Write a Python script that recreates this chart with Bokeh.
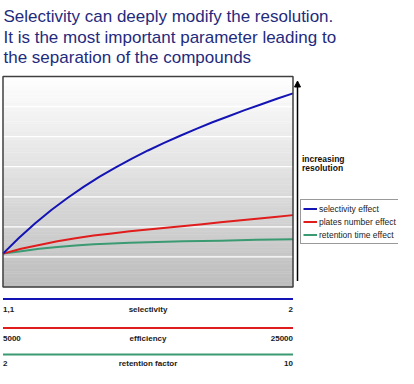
import numpy as np
from bokeh.plotting import figure
from bokeh.models import Range1d, Legend, LegendItem, Arrow, NormalHead
from bokeh.core.properties import value
from bokeh.embed import file_html
from bokeh.resources import INLINE

# ---------------- data ----------------
title_lines = ["Selectivity can deeply modify the resolution.",
               "It is the most important parameter leading to",
               "the separation of the  compounds"]

selectivity = [1.10, 1.15, 1.20, 1.25, 1.30, 1.35, 1.40, 1.45, 1.50, 1.55,
               1.60, 1.65, 1.70, 1.75, 1.80, 1.85, 1.90, 1.95, 2.00]
res_selectivity = [1.11, 1.64, 2.12, 2.56, 2.96, 3.33, 3.67, 3.98, 4.27, 4.54,
                   4.79, 5.03, 5.26, 5.48, 5.68, 5.88, 6.07, 6.26, 6.44]

plates = [5000, 6250, 7500, 8750, 10000, 11250, 12500, 13750, 15000,
          16250, 17500, 18750, 20000, 21250, 22500, 23750, 25000]
res_plates = [1.11, 1.27, 1.40, 1.52, 1.62, 1.71, 1.78, 1.85, 1.91,
              1.97, 2.03, 2.09, 2.15, 2.21, 2.27, 2.33, 2.39]

retention = [2, 2.5, 3, 3.5, 4, 4.5, 5, 5.5, 6, 7, 8, 9, 10]
res_retention = [1.11, 1.19, 1.27, 1.33, 1.38, 1.42, 1.45, 1.47, 1.49, 1.52, 1.54, 1.57, 1.59]

series_labels = ["selectivity effect", "plates number effect", "retention time effect"]
scale_titles = ["selectivity", "efficiency", "retention factor"]
scale_ends = [["1,1", "2"], ["5000", "25000"], ["2", "10"]]
side_label = ["increasing", "resolution"]
grid_levels = [1, 2, 3, 4, 5, 6]
y_top = 7

# ---------------- layout (canvas pixels) ----------------
W, H = 398, 368
BL, BR = 2.5, 292.5
BT, BB = 76.0, 286.5
BLUE, RED, GREEN = "#1414b4", "#e01c1c", "#3a9a72"
FONT_NAME = "Liberation Sans"
FONT = value(FONT_NAME)


def make_range(lo, hi):
    s = (hi - lo) / (BR - BL)
    return Range1d(lo - BL * s, lo + (W - BL) * s)


x_range = make_range(selectivity[0], selectivity[-1])
sel_scale = (selectivity[-1] - selectivity[0]) / (BR - BL)
ppu = (BB - BT) / y_top
y_range = Range1d(-(H - BB) / ppu, BB / ppu)


def sx(px):
    return x_range.start + px * sel_scale


def sy(py):
    return (BB - py) / ppu


p = figure(width=W, height=H, x_range=x_range, y_range=y_range,
           output_backend="svg", toolbar_location=None,
           x_axis_location=None, y_axis_location=None,
           min_border=0, outline_line_color=None)
p.extra_x_ranges = {"eff": make_range(plates[0], plates[-1]),
                    "ret": make_range(retention[0], retention[-1])}
p.grid.visible = False
p.background_fill_color = "white"
p.border_fill_color = "white"

# gradient background of the chart box
nb = 80
edges = np.linspace(0, y_top, nb + 1)
mids = (edges[:-1] + edges[1:]) / 2
cols = []
for m in mids:
    f = 1 - m / y_top
    g = int(round(255 - f * 66))
    cols.append("#%02x%02x%02x" % (g, g, g))
p.quad(left=selectivity[0], right=selectivity[-1], bottom=edges[:-1], top=edges[1:],
       fill_color=cols, line_color=cols, line_width=0.6)

p.segment(x0=selectivity[0], x1=selectivity[-1], y0=grid_levels, y1=grid_levels,
          line_color="white", line_width=1.2)

# curves
rg = p.line(retention, res_retention, x_range_name="ret", line_color=GREEN,
            line_width=2, line_join="round")
rr = p.line(plates, res_plates, x_range_name="eff", line_color=RED,
            line_width=2, line_join="round")
rb = p.line(selectivity, res_selectivity, line_color=BLUE,
            line_width=2, line_join="round")

p.quad(left=selectivity[0], right=selectivity[-1], bottom=0, top=y_top,
       fill_color=None, line_color="#404040", line_width=1.5)

# title
for i, t in enumerate(title_lines):
    p.text(x=[sx(3)], y=[sy(16.0 + i * 20.6)], text=[t], text_font=FONT,
           text_font_size="17px", text_color="#1f2b7d", text_baseline="alphabetic",
           text_align="left")

# side arrow + label
p.add_layout(Arrow(end=NormalHead(size=6, fill_color="black", line_color="black"),
                   x_start=sx(297), y_start=sy(280.5), x_end=sx(297), y_end=sy(80.5),
                   line_color="black", line_width=1.5))
for i, t in enumerate(side_label):
    p.text(x=[sx(301.5)], y=[sy(158.5 + i * 9.3)], text=[t], text_font=FONT,
           text_font_size="8.5px", text_font_style="bold", text_color="#111111",
           text_baseline="middle", text_align="left")

# legend
legend = Legend(items=[LegendItem(label=series_labels[0], renderers=[rb]),
                       LegendItem(label=series_labels[1], renderers=[rr]),
                       LegendItem(label=series_labels[2], renderers=[rg])],
                location=(300, 123.8), orientation="vertical",
                label_text_font=FONT_NAME, label_text_font_size="8.5px",
                label_text_color="#222222",
                glyph_width=14, glyph_height=13, label_height=13,
                label_standoff=2, padding=2, spacing=0, margin=0,
                border_line_color="#333333", border_line_width=1,
                background_fill_color="white", background_fill_alpha=1)
p.add_layout(legend)

# bottom parameter scales
scales = [(selectivity, None, BLUE), (plates, "eff", RED), (retention, "ret", GREEN)]
line_py = [298.5, 327.5, 354.0]
label_py = [308.5, 337.5, 362.5]
for (vals, rname, col), lp, tp, ttl, ends in zip(scales, line_py, label_py,
                                                  scale_titles, scale_ends):
    kw = {} if rname is None else {"x_range_name": rname}
    lo, hi = vals[0], vals[-1]
    p.segment(x0=[lo], x1=[hi], y0=[sy(lp)], y1=[sy(lp)], line_color=col,
              line_width=2, **kw)
    common = dict(text_font=FONT, text_font_size="8px", text_font_style="bold",
                  text_color="#1a1a1a", text_baseline="alphabetic", **kw)
    p.text(x=[lo], y=[sy(tp)], text=[ends[0]], text_align="left", **common)
    p.text(x=[(lo + hi) / 2], y=[sy(tp)], text=[ttl], text_align="center", **common)
    p.text(x=[hi], y=[sy(tp)], text=[ends[1]], text_align="right", **common)

open("out.html", "w").write(file_html(p, INLINE))
